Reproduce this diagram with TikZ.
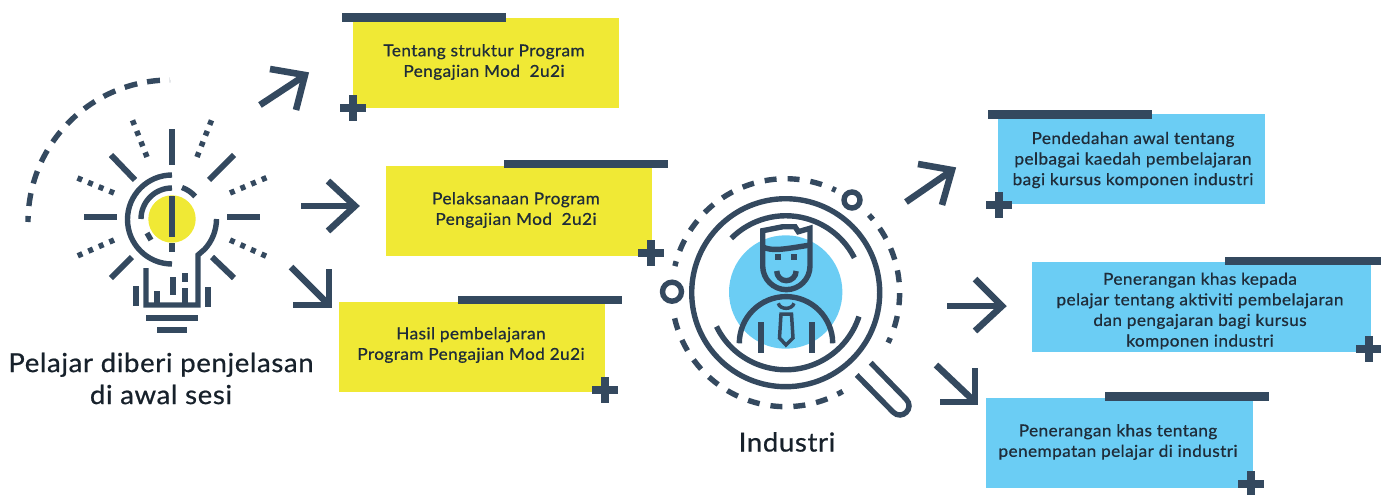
\documentclass[tikz,border=0pt]{standalone}
\usepackage{fontspec}
\setmainfont{Lato}[LetterSpace=2.5, FakeStretch=1.05, FakeBold=0.7]
\usepackage{xcolor}
\usetikzlibrary{positioning}
\definecolor{inkblue}{HTML}{34495F}
\definecolor{boxyellow}{HTML}{F0E935}
\definecolor{boxblue}{HTML}{6BCDF4}
\tikzset{
  icon/.style={draw=inkblue, line width=5.4pt},
  thinicon/.style={draw=inkblue, line width=3.5pt},
  ray/.style={draw=inkblue, line width=6pt},
  dotray/.style={draw=inkblue, line width=5.5pt, dash pattern=on 5pt off 6.5pt},
  dashring/.style={draw=inkblue, line width=5.4pt, dash pattern=on 12pt off 11pt},
  arrowline/.style={draw=inkblue, line width=6.6pt, miter limit=10},
  topbar/.style={draw=inkblue, line width=8.5pt},
  yellowbox/.style={rectangle, fill=boxyellow, inner sep=0pt, minimum width=266pt, minimum height=90pt},
  bluebox/.style={rectangle, fill=boxblue, inner sep=0pt, minimum width=267pt, minimum height=90pt},
  boxtext/.style={align=center, inner sep=0pt, text=inkblue!60!black, font=\fontsize{16.4}{20.6}\selectfont},
  caption/.style={align=center, inner sep=0pt, text=inkblue!45!black, font=\fontsize{26.2}{32}\selectfont},
  plusmark/.pic={
    \draw[draw=inkblue, line width=8pt] (-13,0) -- (13,0) (0,-13) -- (0,13);
  },
}
\begin{document}
\begin{tikzpicture}[x=1pt, y=-1pt]
  \useasboundingbox (0,0) rectangle (1381,495);

  % boxes on the left
  \node[yellowbox, anchor=north west] (yellow1) at (353,18) {};
  \node[yellowbox, anchor=north west] (yellow2) at (386,166) {};
  \node[yellowbox, anchor=north west] (yellow3) at (339,302) {};
  \draw[topbar] (342,17.5) -- (506,17.5);
  \draw[topbar] (504,164) -- (668,164);
  \draw[topbar] (458,300) -- (622,300);
  \pic at (353,108) {plusmark};
  \pic at (651,253) {plusmark};
  \pic at (605,390) {plusmark};
  \node[boxtext] (text1) at (484,62) {Tentang struktur Program\\Pengajian Mod~~2u2i};
  \node[boxtext] (text2) at (516,210) {Pelaksanaan Program\\Pengajian Mod~~2u2i};
  \node[boxtext] (text3) at (471,345) {Hasil pembelajaran\\Program Pengajian Mod 2u2i};

  % boxes on the right
  \node[bluebox, anchor=north west] (blue1) at (998,114) {};
  \node[bluebox, anchor=north west, minimum width=339pt] (blue2) at (1032,262) {};
  \node[bluebox, anchor=north west] (blue3) at (986,398) {};
  \draw[topbar] (988,114.5) -- (1152,114.5);
  \draw[topbar] (1225,261) -- (1381,261);
  \draw[topbar] (1105,396.5) -- (1269,396.5);
  \pic at (999,205) {plusmark};
  \pic at (1369,349) {plusmark};
  \pic at (1251,484) {plusmark};
  \node[boxtext] (text4) at (1133,160) {Pendedahan awal tentang\\pelbagai kaedah pembelajaran\\bagi kursus komponen industri};
  \node[boxtext] (text5) at (1200,311) {Penerangan khas kepada\\pelajar tentang aktiviti pembelajaran\\dan pengajaran bagi kursus\\komponen industri};
  \node[boxtext] (text6) at (1118,442) {Penerangan khas tentang\\penempatan pelajar di industri};

  % arrows
  \draw[arrowline] (260,105) -- (304,76);
  \draw[arrowline] (270,69) -- (305,75) -- (296,110);
  \draw[arrowline] (301,206) -- (354,206);
  \draw[arrowline] (328,181) -- (355,206) -- (328,231);
  \draw[arrowline] (291,267) -- (328,304);
  \draw[arrowline] (329,269) -- (329,305) -- (293,305);
  \draw[arrowline] (906,202) -- (951,171);
  \draw[arrowline] (918,164) -- (952,170) -- (942,205);
  \draw[arrowline] (947,306) -- (1000,306);
  \draw[arrowline] (975,279) -- (1002,306) -- (975,331);
  \draw[arrowline] (936,365) -- (974,401);
  \draw[arrowline] (975,368) -- (975,402) -- (940,402);

  % bulb
  \fill[boxyellow] (172,219) circle (23.7pt);
  \draw[draw=inkblue, line width=5.4pt, dash pattern=on 13pt off 10pt, dash phase=7pt]
    (28,222) arc[start angle=180, end angle=90, radius=142pt];
  \draw[icon] (172,175) arc[start angle=90, end angle=270, radius=44.5pt];
  \draw[icon] (216.5,219) arc[start angle=0, end angle=-43, radius=44.5pt] -- (198,255) -- (198,305) -- (146,305) -- (146,268);
  \draw[icon] (172,188) arc[start angle=90, end angle=180, radius=31pt];
  \draw[icon] (182,187.5) arc[start angle=70, end angle=42, radius=33pt];
  \draw[icon] (147,233) -- (151,240);
  \foreach \fromx/\fromy/\tox/\toy in {172/129/172/165, 172/196/172/237, 172/243/172/252,
      84/217/117/217, 227/217/260/217, 111/155/135/180, 234/155/209/180, 132/257/111/278, 212/257/234/278,
      136/286/136/306, 208/287/208/307, 157/291/157/304, 173/277/173/295, 185/273/185/282, 185/288/185/304,
      146/318/198/318, 157/330/187/330}
    \draw[ray] (\fromx,\fromy) -- (\tox,\toy);
  \foreach \fromx/\fromy/\tox/\toy in {147/157/132/119, 197/157/212/119, 114/193/75/177, 230/193/268/177,
      114/240/75/257, 230/240/268/257}
    \draw[dotray] (\fromx,\fromy) -- (\tox,\toy);
  \node[caption] (caption1) at (161,378.5) {Pelajar diberi penjelasan\\di awal sesi};

  % magnifier
  \fill[boxblue] (785.7,292) circle (56.7pt);
  \draw[icon] (785.7,292.7) circle (94pt);
  \draw[icon] (731.3,238.3) arc[start angle=135, end angle=27, radius=77pt];
  \draw[icon] (716.5,326.5) arc[start angle=206, end angle=342, radius=77pt];
  \draw[dashring, dash phase=7pt] (674.9,266.1) arc[start angle=166.5, end angle=64, radius=114pt];
  \draw[dashring, dash phase=6pt] (869,215) arc[start angle=43, end angle=-26, radius=114pt];
  \draw[dashring, dash phase=6pt] (842.7,391.4) arc[start angle=-60, end angle=-167, radius=114pt];
  \draw[icon] (852,200) circle (8pt);
  \draw[icon] (672,291.7) circle (9.5pt);
  \draw[icon] (870.7,362.7) -- (906,399) .. controls (915,408) and (902,421) .. (893,412) -- (856.7,375);

  % man
  \draw[icon] (762.7,266) -- (762.7,230.7) -- (783,226.7) -- (795,226.7) -- (798.3,231.7) -- (810,228.3) -- (810,266)
    arc[start angle=0, end angle=-180, radius=23.65pt];
  \draw[icon] (762.7,247) .. controls (772,251) and (780,250) .. (810,245);
  \draw[icon] (776.7,271) arc[start angle=180, end angle=360, radius=9.7pt];
  \draw[ray] (775,257) -- (781,257);
  \draw[ray] (791,257) -- (797,257);
  \draw[icon] (739.3,343.3) arc[start angle=180, end angle=0, radius=46.7pt];
  \draw[ray] (761,322) -- (761,352.7);
  \draw[ray] (812,322) -- (812,352.7);
  \draw[thinicon] (778.3,303.3) .. controls (780,310) and (792,310) .. (794,303.3);
  \draw[thinicon, line join=miter] (781,314) -- (779.5,338) -- (786,345) -- (793,338) -- (791.5,314) -- cycle;
  \node[caption] (caption2) at (787,442) {Industri};
\end{tikzpicture}
\end{document}
